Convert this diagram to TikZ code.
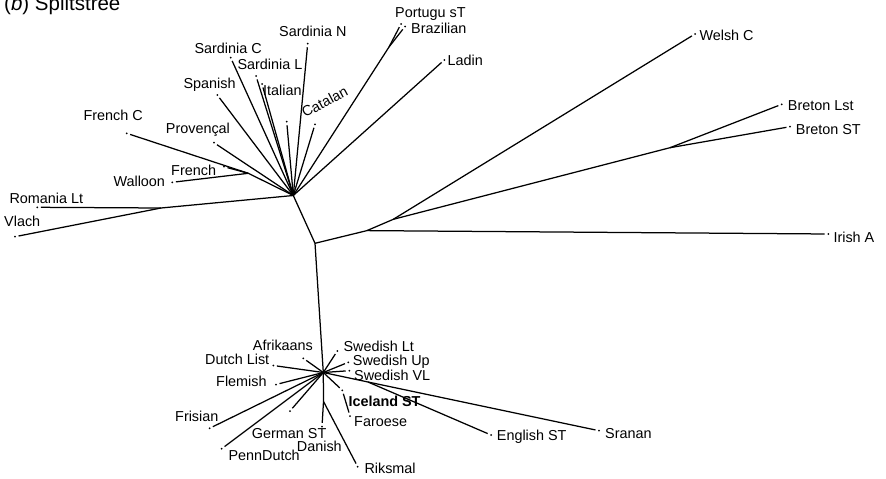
\documentclass[tikz,border=0pt]{standalone}
\usepackage{fontspec}
\setmainfont{Liberation Sans}
\begin{document}
\begin{tikzpicture}[x=1pt,y=-1pt,
  edge/.style={line width=1.25pt},
  taxon/.style={circle, fill=black, inner sep=0pt, minimum size=2pt, outer sep=2.6pt},
  lang/.style={inner sep=0pt, anchor=base west, font=\fontsize{14.4}{17}\selectfont}]
\useasboundingbox (0,0) rectangle (886,479);

\node[lang, font=\fontsize{20.5}{24}\selectfont] (title) at (4,10) {(\textit{b}) Splitstree};

% internal split points
\coordinate (R)  at (293.3,195.5);
\coordinate (C)  at (315,243.3);
\coordinate (G)  at (323.3,372.5);
\coordinate (F)  at (248.3,173.3);
\coordinate (V)  at (161,208);
\coordinate (P)  at (389,47);
\coordinate (J1) at (367,230.6);
\coordinate (J2) at (393.3,219.3);
\coordinate (B)  at (670,147.7);
\coordinate (D)  at (323.5,401.5);
\coordinate (E)  at (368,382);

% Romance taxa
\node[taxon] (sardC) at (230.7,57.7) {};
\node[taxon] (sardL) at (256,76) {};
\node[taxon] (sardN) at (307.7,43.7) {};
\node[taxon] (span)  at (217.3,95) {};
\node[taxon] (ital)  at (262,84) {};
\node[taxon] (rom1)  at (286.7,121.7) {};
\node[taxon] (cat)   at (315,124.3) {};
\node[taxon] (port)  at (401,24) {};
\node[taxon] (braz)  at (405,26.5) {};
\node[taxon] (lad)   at (444.3,60) {};
\node[taxon] (prov)  at (214,142.7) {};
\node[taxon] (frC)   at (126.7,133.3) {};
\node[taxon] (fr)    at (224,166.7) {};
\node[taxon] (wal)   at (172.3,182.3) {};
\node[taxon] (roLt)  at (37.3,207.3) {};
\node[taxon] (vla)   at (15,236.7) {};

% Celtic taxa
\node[taxon] (wel) at (695,34) {};
\node[taxon] (brL) at (781.7,104.3) {};
\node[taxon] (brS) at (790,126.7) {};
\node[taxon] (iri) at (828.3,234) {};

% Germanic taxa
\node[taxon] (afr)  at (303.3,358.3) {};
\node[taxon] (dut)  at (273.3,365.5) {};
\node[taxon] (fle)  at (276,384.5) {};
\node[taxon] (fri)  at (209.6,428.3) {};
\node[taxon] (pen)  at (221.7,448.7) {};
\node[taxon] (ger)  at (290,411) {};
\node[taxon] (dan)  at (322,426.5) {};
\node[taxon] (rik)  at (357.7,466.7) {};
\node[taxon] (swLt) at (337.3,351) {};
\node[taxon] (swUp) at (348.3,362.3) {};
\node[taxon] (swVL) at (349.3,370.7) {};
\node[taxon] (ice)  at (342.3,390.3) {};
\node[taxon] (far)  at (350,416) {};
\node[taxon] (eng)  at (491,435) {};
\node[taxon] (sra)  at (599,430.7) {};

% backbone
\draw[edge] (R) -- (C) -- (G);

% Romance edges
\draw[edge] (R) -- (V) -- (roLt);
\draw[edge] (V) -- (vla);
\draw[edge] (R) -- (F) -- (frC);
\draw[edge] (F) -- (fr);
\draw[edge] (F) -- (wal);
\foreach \t in {prov,span,sardC,sardL,ital,rom1,sardN,cat,lad}
  \draw[edge] (R) -- (\t);
\draw[edge] (R) -- (P) -- (port);
\draw[edge] (P) -- (braz);

% Celtic edges
\draw[edge] (C) -- (J1) -- (iri);
\draw[edge] (J1) -- (J2) -- (wel);
\draw[edge] (J2) -- (B) -- (brL);
\draw[edge] (B) -- (brS);

% Germanic edges
\foreach \t in {afr,dut,fle,fri,pen,ger,swLt,swUp,swVL,ice}
  \draw[edge] (G) -- (\t);
\draw[edge] (ice) -- (far);
\draw[edge] (G) -- (D) -- (dan);
\draw[edge] (D) -- (rik);
\draw[edge] (G) -- (E) -- (eng);
\draw[edge] (E) -- (sra);

% Romance labels
\node[lang] (tSardC) at (194.3,53.3) {Sardinia C};
\node[lang] (tSardL) at (237.3,69) {Sardinia L};
\node[lang] (tSardN) at (279,36.5) {Sardinia N};
\node[lang] (tSpan)  at (183.3,88.5) {Spanish};
\node[lang] (tItal)  at (263,95) {Italian};
\node[lang, rotate=28] (tCat) at (305,118) {Catalan};
\node[lang] (tPort)  at (395,17) {Portugu sT};
\node[lang] (tBraz)  at (411,33) {Brazilian};
\node[lang] (tLad)   at (447.5,65.5) {Ladin};
\node[lang] (tFrC)   at (83.3,120) {French C};
\node[lang] (tProv)  at (165.7,133.3) {Provençal};
\node[lang] (tFr)    at (171,175) {French};
\node[lang] (tWal)   at (113.3,186.5) {Walloon};
\node[lang] (tRoLt)  at (9.3,203.3) {Romania Lt};
\node[lang] (tVla)   at (4,226.7) {Vlach};

% Celtic labels
\node[lang] (tWel) at (699.3,40.5) {Welsh C};
\node[lang] (tBrL) at (787.7,110.5) {Breton Lst};
\node[lang] (tBrS) at (795.7,134) {Breton ST};
\node[lang] (tIri) at (833.3,242.5) {Irish A};

% Germanic labels
\node[lang] (tAfr)  at (252.7,350.7) {Afrikaans};
\node[lang] (tDut)  at (205,364.3) {Dutch List};
\node[lang] (tFle)  at (216,386.7) {Flemish};
\node[lang] (tFri)  at (175,421.5) {Frisian};
\node[lang] (tPen)  at (228.3,460) {PennDutch};
\node[lang] (tGer)  at (251.7,438.3) {German ST};
\node[lang] (tDan)  at (296.7,451.7) {Danish};
\node[lang] (tRik)  at (364.3,473) {Riksmal};
\node[lang] (tSwLt) at (343.3,351.7) {Swedish Lt};
\node[lang] (tSwUp) at (352.7,365.3) {Swedish Up};
\node[lang] (tSwVL) at (354,380) {Swedish VL};
\node[lang, font=\fontsize{14.4}{17}\selectfont\bfseries] (tIce) at (348.3,406.7) {Iceland ST};
\node[lang] (tFar)  at (354,426) {Faroese};
\node[lang] (tEng)  at (496.7,440.3) {English ST};
\node[lang] (tSra)  at (605,438) {Sranan};
\end{tikzpicture}
\end{document}
